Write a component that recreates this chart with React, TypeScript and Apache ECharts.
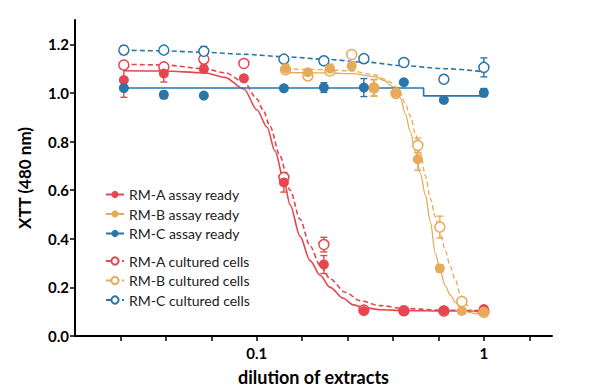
import React, { useEffect, useRef } from "react";
import * as echarts from "echarts";

// ---------- data ----------
const xA = [0.026, 0.039, 0.0585, 0.0878, 0.1317, 0.1975, 0.2963, 0.4444, 0.6667, 1];
const xB = [0.134, 0.168, 0.21, 0.262, 0.328, 0.41, 0.512, 0.64, 0.8, 1];

const aReady = [1.053, 1.08, 1.098, 1.06, 0.632, 0.294, 0.103, 0.103, 0.105, 0.111];
const aReadyErr = [0.071, 0.035, 0.014, 0.012, 0.04, 0.037, 0.008, 0.006, 0.006, 0.008];
const aCult = [1.115, 1.107, 1.139, 1.121, 0.652, 0.376, 0.107, 0.104, 0.103, 0.1];
const aCultErr = [0, 0.015, 0.02, 0, 0.02, 0.03, 0, 0, 0, 0];

const bReady = [1.1, 1.085, 1.1, 1.111, 1.022, 1.001, 0.727, 0.278, 0.103, 0.1];
const bReadyErr = [0.018, 0.005, 0.018, 0.017, 0.034, 0.01, 0.045, 0.015, 0.005, 0.005];
const bCult = [1.095, 1.07, 1.09, 1.158, 1.02, 0.998, 0.784, 0.448, 0.142, 0.098];
const bCultErr = [0, 0.005, 0.01, 0, 0.034, 0.005, 0.03, 0.045, 0, 0];

const cReady = [1.02, 0.992, 0.989, null, 1.019, 1.022, 1.022, 1.044, 0.971, 1.001];
const cReadyErr = [0, 0.015, 0, 0, 0, 0.02, 0.037, 0, 0, 0.017];
const cCult = [1.176, 1.176, 1.171, null, 1.139, 1.132, 1.141, 1.125, 1.056, 1.105];
const cCultErr = [0.018, 0.01, 0.02, 0, 0, 0, 0.016, 0.016, 0, 0.039];

// fitted curves
const fitAReadyX = [0.026, 0.039, 0.0585, 0.0725, 0.0878, 0.1003, 0.111, 0.1204, 0.1317, 0.1402, 0.1552, 0.1718, 0.1902, 0.2105, 0.2403, 0.266, 0.2963, 0.3499, 0.4444, 0.6667, 1];
const fitAReadyY = [1.091, 1.09, 1.083, 1.064, 1.016, 0.93, 0.86, 0.76, 0.64, 0.54, 0.41, 0.31, 0.25, 0.2, 0.155, 0.128, 0.117, 0.108, 0.105, 0.103, 0.102];
const fitACultX = [0.026, 0.039, 0.0585, 0.0725, 0.0878, 0.1003, 0.1066, 0.1145, 0.1267, 0.1402, 0.1552, 0.1718, 0.1902, 0.2105, 0.2452, 0.2856, 0.3499, 0.4444, 0.6667, 1];
const fitACultY = [1.118, 1.115, 1.1, 1.083, 1.045, 0.975, 0.93, 0.862, 0.74, 0.6, 0.48, 0.37, 0.29, 0.235, 0.18, 0.145, 0.125, 0.113, 0.106, 0.104];
const fitBX = [0.134, 0.168, 0.21, 0.262, 0.328, 0.3677, 0.3869, 0.4096, 0.4286, 0.451, 0.4746, 0.4993, 0.5253, 0.5526, 0.5814, 0.6116, 0.6435, 0.677, 0.7124, 0.7494, 0.7887, 0.8295, 0.8727, 0.9182, 1];
const fitBReadyY = [1.084, 1.083, 1.082, 1.079, 1.068, 1.05, 1.033, 1.012, 0.98, 0.915, 0.84, 0.76, 0.67, 0.58, 0.47, 0.34, 0.265, 0.205, 0.168, 0.138, 0.115, 0.103, 0.096, 0.092, 0.088];
const fitBCultY = [1.098, 1.097, 1.095, 1.09, 1.075, 1.056, 1.045, 1.025, 1.0, 0.955, 0.905, 0.835, 0.755, 0.66, 0.565, 0.49, 0.42, 0.35, 0.285, 0.23, 0.17, 0.135, 0.108, 0.097, 0.092];
const fitCReadyX = [0.026, 0.543, 0.543, 1];
const fitCReadyY = [1.02, 1.02, 0.988, 0.988];
const fitCCultY = [1.176, 1.173, 1.167, 1.159, 1.149, 1.139, 1.127, 1.112, 1.1, 1.087];

const names = [
  "RM-A assay ready",
  "RM-B assay ready",
  "RM-C assay ready",
  "RM-A cultured cells",
  "RM-B cultured cells",
  "RM-C cultured cells",
];

const xRange = [0.015849, 1.99526];
const xTickValues = [0.02512, 0.03981, 0.0631, 0.1, 0.1585, 0.2512, 0.3981, 0.631, 1, 1.585];
const xLabelValues = [0.1, 1];
const xLabelTexts = ["0.1", "1"];
const yTickValues = [0, 0.2, 0.4, 0.6, 0.8, 1.0, 1.2];

const RED = "#e5464f";
const YEL = "#e6ab5a";
const BLU = "#2a76a8";
const FONT = "Lato, 'Open Sans', sans-serif";

const lg = (v: number) => Math.log10(v);

function pts(xs: number[], ys: (number | null)[]) {
  const out: number[][] = [];
  xs.forEach((x, i) => {
    const y = ys[i];
    if (y != null) out.push([lg(x), y]);
  });
  return out;
}
function errs(xs: number[], ys: (number | null)[], es: number[]) {
  const out: number[][] = [];
  xs.forEach((x, i) => {
    const y = ys[i];
    if (y != null && es[i] > 0) out.push([lg(x), y - es[i], y + es[i]]);
  });
  return out;
}

function errSeries(data: number[][], color: string) {
  return {
    type: "custom",
    silent: true,
    z: 2,
    encode: { x: 0, y: [1, 2] },
    data,
    renderItem: (_p: any, api: any) => {
      const x = api.value(0);
      const p1 = api.coord([x, api.value(1)]);
      const p2 = api.coord([x, api.value(2)]);
      const w = 3.5;
      const st = { stroke: color, lineWidth: 1.4 };
      return {
        type: "group",
        children: [
          { type: "line", shape: { x1: p1[0], y1: p1[1], x2: p2[0], y2: p2[1] }, style: st },
          { type: "line", shape: { x1: p1[0] - w, y1: p1[1], x2: p1[0] + w, y2: p1[1] }, style: st },
          { type: "line", shape: { x1: p2[0] - w, y1: p2[1], x2: p2[0] + w, y2: p2[1] }, style: st },
        ],
      };
    },
  };
}

function fitSeries(name: string, xs: number[], ys: number[], color: string, dashed: boolean, width = 1.6) {
  return {
    type: "line",
    name,
    data: pts(xs, ys),
    smooth: 0.3,
    smoothMonotone: "x",
    showSymbol: false,
    symbol: dashed ? "emptyCircle" : "circle",
    symbolSize: 8,
    itemStyle: { color },
    lineStyle: { color, width, type: dashed ? [5, 3] : "solid" },
    z: 1,
    silent: true,
  };
}

function ptSeries(id: string, xs: number[], ys: (number | null)[], color: string, hollow: boolean) {
  return {
    type: "scatter",
    name: id,
    data: pts(xs, ys),
    symbol: "circle",
    symbolSize: 10,
    itemStyle: hollow
      ? { color: "#ffffff", borderColor: color, borderWidth: 1.5, opacity: 1 }
      : { color, opacity: 1 },
    z: hollow ? 3 : 4,
    silent: true,
  };
}

export default function App() {
  const ref = useRef<HTMLDivElement>(null);
  useEffect(() => {
    if (!ref.current) return;
    const chart = echarts.init(ref.current, undefined, { renderer: "svg" });
    const axisText = { color: "#000", fontWeight: "bold" as const, fontSize: 15, fontFamily: FONT };
    const legendBase = {
      orient: "vertical",
      left: 105,
      padding: 0,
      itemWidth: 18,
      itemHeight: 9,
      itemGap: 5.5,
      selectedMode: false,
      textStyle: { fontSize: 14, lineHeight: 13, color: "#222", fontFamily: FONT },
    };
    chart.setOption({
      animation: false,
      backgroundColor: "#ffffff",
      grid: { left: 75, right: 48, top: 20, bottom: 53 },
      legend: [
        { ...legendBase, top: 187.5, data: names.slice(0, 3) },
        { ...legendBase, top: 254, data: names.slice(3) },
      ],
      xAxis: {
        type: "value",
        min: lg(xRange[0]),
        max: lg(xRange[1]),
        splitLine: { show: false },
        axisLine: { onZero: false, lineStyle: { color: "#000", width: 2 } },
        axisTick: {
          customValues: xTickValues.map(lg),
          length: 5,
          lineStyle: { color: "#000", width: 1.5 },
        },
        axisLabel: {
          ...axisText,
          customValues: xLabelValues.map(lg),
          margin: 9,
          formatter: (v: number) => {
            const i = xLabelValues.findIndex((d) => Math.abs(lg(d) - v) < 1e-6);
            return i >= 0 ? xLabelTexts[i] : "";
          },
        },
        name: "dilution of extracts",
        nameLocation: "middle",
        nameGap: 32,
        nameTextStyle: { ...axisText, fontSize: 18 },
      },
      yAxis: {
        type: "value",
        min: 0,
        max: 1.3,
        splitLine: { show: false },
        axisLine: { onZero: false, lineStyle: { color: "#000", width: 2 } },
        axisTick: { customValues: yTickValues, length: 5, lineStyle: { color: "#000", width: 1.5 } },
        axisLabel: {
          ...axisText,
          customValues: yTickValues,
          margin: 6,
          formatter: (v: number) => v.toFixed(1),
        },
        name: "XTT (480 nm)",
        nameLocation: "middle",
        nameGap: 42,
        nameTextStyle: { ...axisText, fontSize: 17 },
      },
      series: [
        fitSeries(names[0], fitAReadyX, fitAReadyY, RED, false),
        fitSeries(names[1], fitBX, fitBReadyY, YEL, false, 1.3),
        fitSeries(names[2], fitCReadyX, fitCReadyY, BLU, false),
        fitSeries(names[3], fitACultX, fitACultY, RED, true),
        fitSeries(names[4], fitBX, fitBCultY, YEL, true, 1.3),
        fitSeries(names[5], xA, fitCCultY, BLU, true),
        errSeries(errs(xA, aReady, aReadyErr), RED),
        errSeries(errs(xA, aCult, aCultErr), RED),
        errSeries(errs(xB, bReady, bReadyErr), YEL),
        errSeries(errs(xB, bCult, bCultErr), YEL),
        errSeries(errs(xA, cReady, cReadyErr), BLU),
        errSeries(errs(xA, cCult, cCultErr), BLU),
        ptSeries("pA-cult", xA, aCult, RED, true),
        ptSeries("pB-cult", xB, bCult, YEL, true),
        ptSeries("pC-cult", xA, cCult, BLU, true),
        ptSeries("pA-ready", xA, aReady, RED, false),
        ptSeries("pB-ready", xB, bReady, YEL, false),
        ptSeries("pC-ready", xA, cReady, BLU, false),
      ],
    });
    return () => chart.dispose();
  }, []);
  return <div ref={ref} style={{ width: 600, height: 391, position: "absolute", left: 0, top: 0 }} />;
}
